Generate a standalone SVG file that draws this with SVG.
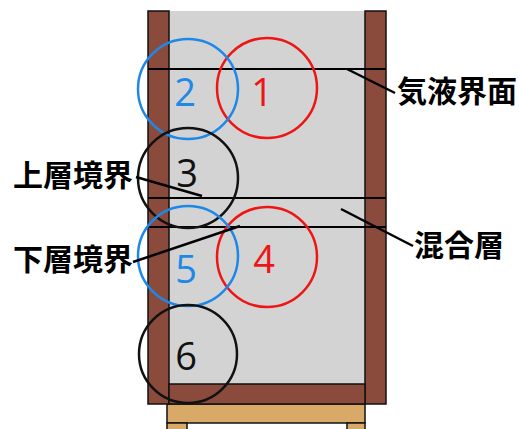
<svg xmlns="http://www.w3.org/2000/svg" width="519" height="429" viewBox="0 0 519 429">
<style>
.wall{fill:#8A4B3C;stroke:#111;stroke-width:1.5}
.line{stroke:#000;stroke-width:2.2;fill:none}
.lead{stroke:#000;stroke-width:2.5;fill:none}
.c{fill:none;stroke-width:2.5}
.blue{stroke:#1E88E8}
.red{stroke:#EE1515}
.blk{stroke:#111}
.num{font-family:"Open Sans","Noto Sans",sans-serif;font-size:38px;text-anchor:middle}
.lbl{font-family:"Noto Sans CJK JP",sans-serif;font-weight:bold;font-size:30px;fill:#000}
</style>
<rect width="519" height="429" fill="#fff"/>
<g id="stand">
<rect x="167" y="404" width="198" height="19" fill="#D9A968" stroke="#111" stroke-width="1.5"/>
<rect x="167" y="423" width="20" height="8" fill="#D9A968" stroke="#111" stroke-width="1.5"/>
<rect x="347" y="423" width="18" height="8" fill="#D9A968" stroke="#111" stroke-width="1.5"/>
</g>
<g id="tank">
<rect x="169" y="11" width="196" height="373" fill="#D3D3D3"/>
<rect class="wall" x="148" y="11" width="21" height="393"/>
<rect class="wall" x="365" y="11" width="21" height="393"/>
<rect class="wall" x="169" y="384" width="196" height="20"/>
</g>
<g id="interfaces">
<line class="line" x1="148" y1="69" x2="386" y2="69"/>
<line class="line" x1="148" y1="198" x2="386" y2="198"/>
<line class="line" x1="148" y1="227" x2="386" y2="227"/>
</g>
<g id="n1"><circle class="c red" cx="267" cy="88" r="50"/><text class="num" x="262" y="106" fill="#EE1515">1</text></g>
<g id="n2"><circle class="c blue" cx="188" cy="89" r="50"/><text class="num" x="185" y="106" fill="#1E88E8">2</text></g>
<g id="n3"><circle class="c blk" cx="188" cy="178" r="50"/><text class="num" x="187" y="187" fill="#111">3</text></g>
<g id="n4"><circle class="c red" cx="267" cy="257" r="50"/><text class="num" x="264" y="273" fill="#EE1515">4</text></g>
<g id="n5"><circle class="c blue" cx="188" cy="256" r="50"/><text class="num" x="186" y="283" fill="#1E88E8">5</text></g>
<g id="n6"><circle class="c blk" cx="188" cy="354" r="49"/><text class="num" x="186" y="370" fill="#111">6</text></g>
<g id="connectors">
<line class="lead" x1="347" y1="69" x2="395" y2="93"/>
<line class="lead" x1="341" y1="209" x2="413" y2="246"/>
<line class="lead" x1="136" y1="177" x2="202" y2="196"/>
<line class="lead" x1="133" y1="262" x2="240" y2="226"/>
</g>
<g id="labels">
<text class="lbl" x="397" y="102">気液界面</text>
<text class="lbl" x="414" y="256">混合層</text>
<text class="lbl" x="13" y="186">上層境界</text>
<text class="lbl" x="13" y="270">下層境界</text>
</g>
</svg>
